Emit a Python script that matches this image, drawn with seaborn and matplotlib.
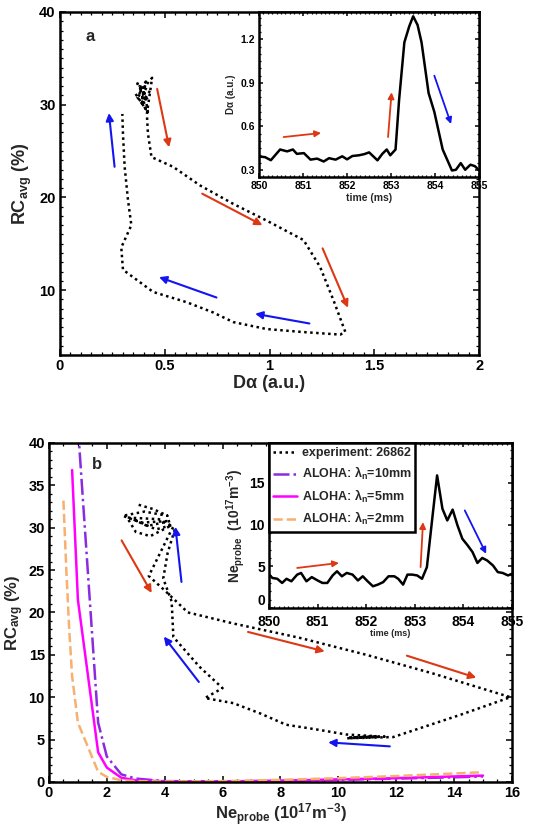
import numpy as np
import pandas as pd
import matplotlib
matplotlib.use('Agg')
import matplotlib.pyplot as plt
import seaborn as sns
from matplotlib.ticker import MultipleLocator, FormatStrFormatter

# ---------------- data: panel a ----------------
da_loop = [0.40, 0.37, 0.42, 0.36, 0.41, 0.38, 0.43, 0.39, 0.41, 0.37, 0.42, 0.40, 0.44,
           0.415, 0.42, 0.437, 0.54, 0.668, 0.827, 0.986, 1.162, 1.241, 1.305, 1.361,
           1.337, 1.146, 0.986, 0.827, 0.73, 0.604, 0.445, 0.301, 0.293, 0.341, 0.325,
           0.309, 0.301, 0.298]
rc_loop_a = [31.0, 32.3, 30.5, 31.2, 29.5, 32.0, 31.5, 30.2, 32.5, 30.8, 29.2, 31.8, 32.9,
             29.0, 26.9, 24.35, 23.3, 21.3, 19.3, 17.5, 15.4, 12.5, 8.9, 5.5,
             5.2, 5.5, 5.8, 6.55, 7.6, 8.7, 9.8, 12.2, 14.6, 17.0, 19.7,
             23.3, 26.9, 29.0]

time_a = [850.0, 850.14, 850.27, 850.48, 850.64, 850.77, 850.86, 851.02, 851.17, 851.32,
          851.47, 851.59, 851.74, 851.89, 852.0, 852.12, 852.27, 852.39, 852.5, 852.57,
          852.69, 852.8, 852.9, 852.98, 853.1, 853.18, 853.3, 853.41, 853.5, 853.6,
          853.69, 853.85, 853.98, 854.17, 854.38, 854.47, 854.58, 854.68, 854.8, 854.9, 855.0]
da_time = [0.392, 0.387, 0.366, 0.44, 0.427, 0.44, 0.41, 0.415, 0.37, 0.377,
           0.357, 0.38, 0.37, 0.393, 0.372, 0.395, 0.40, 0.408, 0.42, 0.40,
           0.365, 0.41, 0.44, 0.40, 0.44, 0.78, 1.18, 1.29, 1.36, 1.30,
           1.18, 0.83, 0.70, 0.44, 0.295, 0.30, 0.346, 0.30, 0.335, 0.325, 0.295]

# arrows: (tail_x, tail_y, head_x, head_y, colour)
arrows_a = [(0.261, 23.3, 0.234, 29.1, 'blue'),
            (0.464, 31.7, 0.521, 25.4, 'red'),
            (0.679, 20.4, 0.966, 17.0, 'red'),
            (1.253, 14.5, 1.374, 8.1, 'red'),
            (0.747, 9.2, 0.473, 11.4, 'blue'),
            (1.19, 6.4, 0.931, 7.45, 'blue')]
arrows_a_inset = [(850.56, 0.526, 851.41, 0.554, 'red'),
                  (852.93, 0.526, 853.01, 0.835, 'red'),
                  (853.98, 0.95, 854.36, 0.616, 'blue')]

# ---------------- data: panel b ----------------
ne_loop = [3.1, 3.6, 4.1, 3.3, 2.55, 3.2, 4.2, 3.4, 2.9, 3.7, 4.25, 3.5, 3.0, 2.7, 3.8, 4.3,
           4.2, 3.45, 4.0, 4.8, 6.37, 8.67, 10.97, 13.27, 15.95, 14.2, 11.9,
           10.3, 11.6, 10.4, 11.3, 10.28, 9.24, 8.2, 7.29, 6.37, 5.39, 6.0, 5.2,
           4.3, 4.24, 3.95, 4.1, 4.35]
rc_loop_b = [32.7, 32.2, 31.4, 31.9, 31.4, 30.6, 30.8, 30.2, 31.0, 29.8, 30.3, 29.0, 29.5, 31.2, 31.0, 30.1,
             29.5, 24.3, 22.6, 20.0, 18.7, 17.0, 15.0, 12.8, 10.0, 7.9, 5.3,
             5.15, 5.35, 5.25, 5.4, 5.6, 6.2, 6.75, 8.1, 9.3, 9.9, 11.07, 13.6,
             17.1, 21.3, 24.0, 27.0, 29.8]

ne_10 = [1.0, 1.7, 2.0, 2.5, 3.0, 4.0, 6.0, 8.0, 10.0, 12.0, 14.0, 15.0]
rc_10 = [42.0, 7.0, 3.0, 0.9, 0.4, 0.1, 0.07, 0.12, 0.25, 0.4, 0.55, 0.65]
ne_5 = [0.8, 1.0, 1.7, 2.0, 2.5, 3.0, 4.0, 6.0, 8.0, 10.0, 12.0, 14.0, 15.0]
rc_5 = [36.8, 21.5, 3.5, 1.7, 0.5, 0.2, 0.08, 0.06, 0.15, 0.3, 0.45, 0.65, 0.75]
ne_2 = [0.5, 0.6, 0.7, 0.8, 1.0, 1.7, 2.0, 2.5, 3.0, 4.0, 6.0, 8.0, 10.0, 12.0, 14.0, 15.0]
rc_2 = [33.2, 25.0, 18.0, 12.5, 7.0, 1.2, 0.6, 0.2, 0.1, 0.05, 0.1, 0.25, 0.45, 0.7, 1.0, 1.15]

time_b = [850.0, 850.07, 850.17, 850.27, 850.36, 850.46, 850.58, 850.66, 850.77, 850.88,
          851.0, 851.1, 851.2, 851.31, 851.4, 851.5, 851.6, 851.72, 851.83, 851.93,
          852.03, 852.14, 852.24, 852.35, 852.46, 852.58, 852.66, 852.76, 852.85, 852.95,
          853.05, 853.15, 853.25, 853.36, 853.46, 853.57, 853.67, 853.78, 853.88, 853.98,
          854.09, 854.19, 854.29, 854.39, 854.49, 854.61, 854.71, 854.81, 854.92, 855.0]
ne_time = [4.0, 3.6, 3.5, 3.0, 3.5, 3.2, 4.0, 4.2, 3.2, 3.7,
           3.3, 3.0, 3.0, 3.9, 4.4, 3.8, 4.2, 4.0, 3.3, 3.8,
           3.2, 2.6, 2.8, 3.1, 3.8, 3.8, 3.5, 2.8, 4.0, 4.0,
           3.9, 3.5, 4.9, 10.7, 15.9, 11.9, 10.5, 11.8, 9.9, 8.3,
           7.5, 6.7, 5.4, 6.0, 5.7, 5.1, 4.3, 4.2, 3.9, 4.1]

arrows_b = [(2.51, 28.5, 3.55, 22.3, 'red'),
            (6.88, 17.7, 9.53, 15.4, 'red'),
            (12.37, 14.9, 14.77, 12.3, 'red'),
            (11.78, 4.2, 9.65, 4.67, 'blue'),
            (5.18, 11.8, 3.97, 17.15, 'blue'),
            (4.58, 23.6, 4.37, 30.1, 'blue')]
arrows_b_inset = [(850.58, 4.8, 851.44, 5.4, 'red'),
                  (853.12, 4.9, 853.17, 10.3, 'red'),
                  (854.03, 11.7, 854.47, 6.5, 'blue')]

legend_labels = ['experiment: 26862', 'ALOHA: λ$_n$=10mm', 'ALOHA: λ$_n$=5mm', 'ALOHA: λ$_n$=2mm']

# ---------------- style ----------------
sns.set_theme(style='ticks')
plt.rcParams['font.family'] = ['Liberation Sans', 'DejaVu Sans']
plt.rcParams['font.weight'] = 'bold'
plt.rcParams['axes.labelweight'] = 'bold'
plt.rcParams['mathtext.fontset'] = 'custom'
plt.rcParams['mathtext.rm'] = 'Liberation Sans:bold'
plt.rcParams['mathtext.it'] = 'Liberation Sans:bold'
plt.rcParams['mathtext.bf'] = 'Liberation Sans:bold'
plt.rcParams['mathtext.default'] = 'bf'
plt.rcParams['axes.linewidth'] = 1.8
plt.rcParams['axes.edgecolor'] = 'black'

COL = {'red': '#dd3814', 'blue': '#1414f0'}
DOT = (1, 1.4)

fig = plt.figure(figsize=(5.44, 8.31), dpi=100)
axA = fig.add_axes([0.110, 0.5728, 0.771, 0.4128])
insA = fig.add_axes([0.476, 0.787, 0.405, 0.1986])
axB = fig.add_axes([0.090, 0.059, 0.851, 0.408])
insB = fig.add_axes([0.4945, 0.2684, 0.4465, 0.1986])


def style_axes(ax, size, major_len=4, minor_len=2):
    ax.tick_params(which='both', direction='in', top=True, right=True, colors='black',
                   labelsize=size, width=1.1, pad=3)
    ax.tick_params(which='major', length=major_len)
    ax.tick_params(which='minor', length=minor_len, width=0.9)
    for lab in ax.get_xticklabels() + ax.get_yticklabels():
        lab.set_fontweight('bold')
    for s in ax.spines.values():
        s.set_linewidth(1.8)
        s.set_color('black')


def draw_arrows(ax, arrows, lw=1.5, ms=11):
    for x0, y0, x1, y1, c in arrows:
        ax.annotate('', xy=(x1, y1), xytext=(x0, y0),
                    arrowprops=dict(arrowstyle='-|>', color=COL[c], lw=lw,
                                    mutation_scale=ms, shrinkA=0, shrinkB=0))

# ---------------- panel a ----------------
dfa = pd.DataFrame({'x': da_loop, 'y': rc_loop_a})
sns.lineplot(data=dfa, x='x', y='y', sort=False, estimator=None, ax=axA,
             color='black', lw=1.8, dashes=False)
axA.lines[-1].set_dashes(DOT)
draw_arrows(axA, arrows_a)
axA.set_xlim(0, 2)
axA.set_ylim(3, 40)
axA.set_xticks([0, 0.5, 1, 1.5, 2])
axA.set_yticks([10, 20, 30, 40])
axA.xaxis.set_major_formatter(FormatStrFormatter('%g'))
axA.xaxis.set_minor_locator(MultipleLocator(0.05))
axA.yaxis.set_minor_locator(MultipleLocator(1))
axA.set_xlabel('Dα (a.u.)', fontsize=13, fontweight='bold', labelpad=1)
axA.set_ylabel('RC$_{avg}$ (%)', fontsize=13, fontweight='bold', labelpad=4)
axA.text(0.143, 37.3, 'a', fontsize=12, fontweight='bold', ha='center', va='center')
style_axes(axA, 10.5)

dfia = pd.DataFrame({'t': time_a, 'v': da_time})
sns.lineplot(data=dfia, x='t', y='v', sort=False, estimator=None, ax=insA,
             color='black', lw=1.8)
draw_arrows(insA, arrows_a_inset, lw=1.3, ms=9)
insA.set_xlim(850, 855)
insA.set_ylim(0.25, 1.39)
insA.set_xticks([850, 851, 852, 853, 854, 855])
insA.set_yticks([0.3, 0.6, 0.9, 1.2])
insA.xaxis.set_major_formatter(FormatStrFormatter('%g'))
insA.yaxis.set_major_formatter(FormatStrFormatter('%g'))
insA.xaxis.set_minor_locator(MultipleLocator(0.1))
insA.yaxis.set_minor_locator(MultipleLocator(0.05))
insA.set_xlabel('time (ms)', fontsize=7.5, fontweight='bold', labelpad=1)
insA.set_ylabel('Dα (a.u.)', fontsize=7, fontweight='bold', labelpad=3)
style_axes(insA, 7.5, major_len=3, minor_len=1.5)

# ---------------- panel b ----------------
dfb = pd.DataFrame({'x': ne_loop, 'y': rc_loop_b})
sns.lineplot(data=dfb, x='x', y='y', sort=False, estimator=None, ax=axB,
             color='black', lw=1.8, label=legend_labels[0])
axB.lines[-1].set_dashes(DOT)
sns.lineplot(x=ne_10, y=rc_10, sort=False, estimator=None, ax=axB,
             color='#8a2be2', lw=1.8, linestyle='-.', label=legend_labels[1])
sns.lineplot(x=ne_5, y=rc_5, sort=False, estimator=None, ax=axB,
             color='#ff00ff', lw=1.8, label=legend_labels[2])
sns.lineplot(x=ne_2, y=rc_2, sort=False, estimator=None, ax=axB,
             color='#f7b070', lw=1.8, linestyle='--', label=legend_labels[3])
handles, labels = axB.get_legend_handles_labels()
if axB.get_legend() is not None:
    axB.get_legend().remove()
draw_arrows(axB, arrows_b)
axB.set_xlim(0, 16)
axB.set_ylim(0, 40)
axB.set_xticks(range(0, 17, 2))
axB.set_yticks(range(0, 41, 5))
axB.xaxis.set_minor_locator(MultipleLocator(0.5))
axB.yaxis.set_minor_locator(MultipleLocator(1))
axB.set_xlabel('Ne$_{probe}$ (10$^{17}$m$^{-3}$)', fontsize=12, fontweight='bold', labelpad=1)
axB.set_ylabel('RC$_{avg}$ (%)', fontsize=12, fontweight='bold', labelpad=2)
axB.text(1.67, 37.5, 'b', fontsize=12, fontweight='bold', ha='center', va='center')
style_axes(axB, 10.5)

dfib = pd.DataFrame({'t': time_b, 'v': ne_time})
sns.lineplot(data=dfib, x='t', y='v', sort=False, estimator=None, ax=insB,
             color='black', lw=1.8)
draw_arrows(insB, arrows_b_inset, lw=1.3, ms=9)
insB.set_xlim(850, 855)
insB.set_ylim(0, 19.8)
insB.set_xticks([850, 851, 852, 853, 854, 855])
insB.set_yticks([0, 5, 10, 15])
insB.xaxis.set_major_formatter(FormatStrFormatter('%g'))
insB.xaxis.set_minor_locator(MultipleLocator(0.1))
insB.yaxis.set_minor_locator(MultipleLocator(1))
insB.set_xlabel('time (ms)', fontsize=6.5, fontweight='bold', labelpad=0)
insB.set_ylabel('Ne$_{probe}$  (10$^{17}$m$^{-3}$)', fontsize=10, fontweight='bold', labelpad=2)
style_axes(insB, 10, major_len=3, minor_len=1.5)
insB.tick_params(axis='x', which='major', pad=5)
insB.get_yticklabels()[0].set_verticalalignment('bottom')

leg = insB.legend(handles, labels, loc='upper left', bbox_to_anchor=(0, 1),
                  frameon=True, fancybox=False, edgecolor='black', framealpha=1,
                  prop={'size': 9, 'weight': 'bold'}, handlelength=1.9,
                  handletextpad=0.35, borderpad=0.35, labelspacing=0.45,
                  borderaxespad=0)
leg.get_frame().set_linewidth(1.8)
leg.get_lines()[0].set_dashes(DOT)

fig.savefig('out.png', dpi=100)
